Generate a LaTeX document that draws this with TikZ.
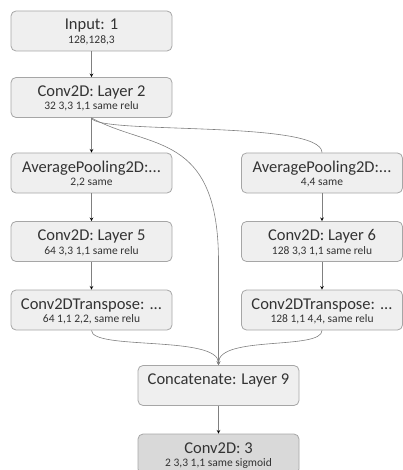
\documentclass[tikz,border=0pt]{standalone}
\usepackage{fontspec}
\setmainfont{Carlito}
\usetikzlibrary{arrows}
\definecolor{boxfill}{HTML}{EFEFEF}
\definecolor{outfill}{HTML}{D9D9D9}
\definecolor{boxline}{HTML}{A6A6A6}
\definecolor{wirecol}{HTML}{808080}
\definecolor{ink}{HTML}{333333}
% title on top, parameters underneath, fixed 161x40 box
\newcommand{\layertext}[2]{%
    \parbox[t][40pt][t]{161pt}{\centering
    {\fontsize{16.5}{13.5}\selectfont\rule{0pt}{19pt}#1\par}%
    {\fontsize{11.5}{13.5}\selectfont #2\par}}%
}

\begin{document}
\begin{tikzpicture}[x=1pt,y=-1pt,
    layer/.style={draw=boxline,fill=boxfill,line width=0.8pt,rounded corners=5pt,inner sep=0pt,text=ink},
    wire/.style={draw=wirecol,line width=0.6pt}]
\clip (0,0) rectangle (403,470);
\node[layer] (in) at (91.5,31) {\layertext{Input: 1}{128,128,3}};
\node[layer] (l2) at (91.5,97.5) {\layertext{Conv2D: Layer 2}{32 3,3 1,1 same relu}};
% left branch
\node[layer] (apl) at (91.5,173) {\layertext{AveragePooling2D:...}{2,2 same}};
\node[layer] (l5) at (91.5,241.5) {\layertext{Conv2D: Layer 5}{64 3,3 1,1 same relu}};
\node[layer] (tl) at (91.5,310) {\layertext{Conv2DTranspose: ...}{64 1,1 2,2, same relu}};
% right branch
\node[layer] (apr) at (322,173) {\layertext{AveragePooling2D:...}{4,4 same}};
\node[layer] (l6) at (322,241.5) {\layertext{Conv2D: Layer 6}{128 3,3 1,1 same relu}};
\node[layer] (tr) at (322,310) {\layertext{Conv2DTranspose: ...}{128 1,1 4,4, same relu}};
% merge and output
\node[layer] (cat) at (218.5,385.5) {\layertext{Concatenate: Layer 9}{}};
\node[layer,fill=outfill] (out) at (218.5,454) {\layertext{Conv2D: 3}{2 3,3 1,1 same sigmoid}};
\path[wire,-stealth]
(in) edge (l2)
(l2) edge (apl)
(apl) edge (l5)
(l5) edge (tl)
(apr) edge (l6)
(l6) edge (tr)
(cat) edge (out);
\draw[wire] (l2.south) .. controls +(4,17) and +(0,-33) .. (apr.north);
\draw[wire,-stealth] (l2.south) .. controls +(58,32) and +(0,-131) .. (cat.north |- l5.south) -- (cat.north);
\draw[wire,-stealth] (tl.south) .. controls +(0,20) and +(0,-30) .. (cat.north);
\draw[wire,-stealth] (tr.south) .. controls +(0,20) and +(0,-30) .. (cat.north);
\end{tikzpicture}
\end{document}
